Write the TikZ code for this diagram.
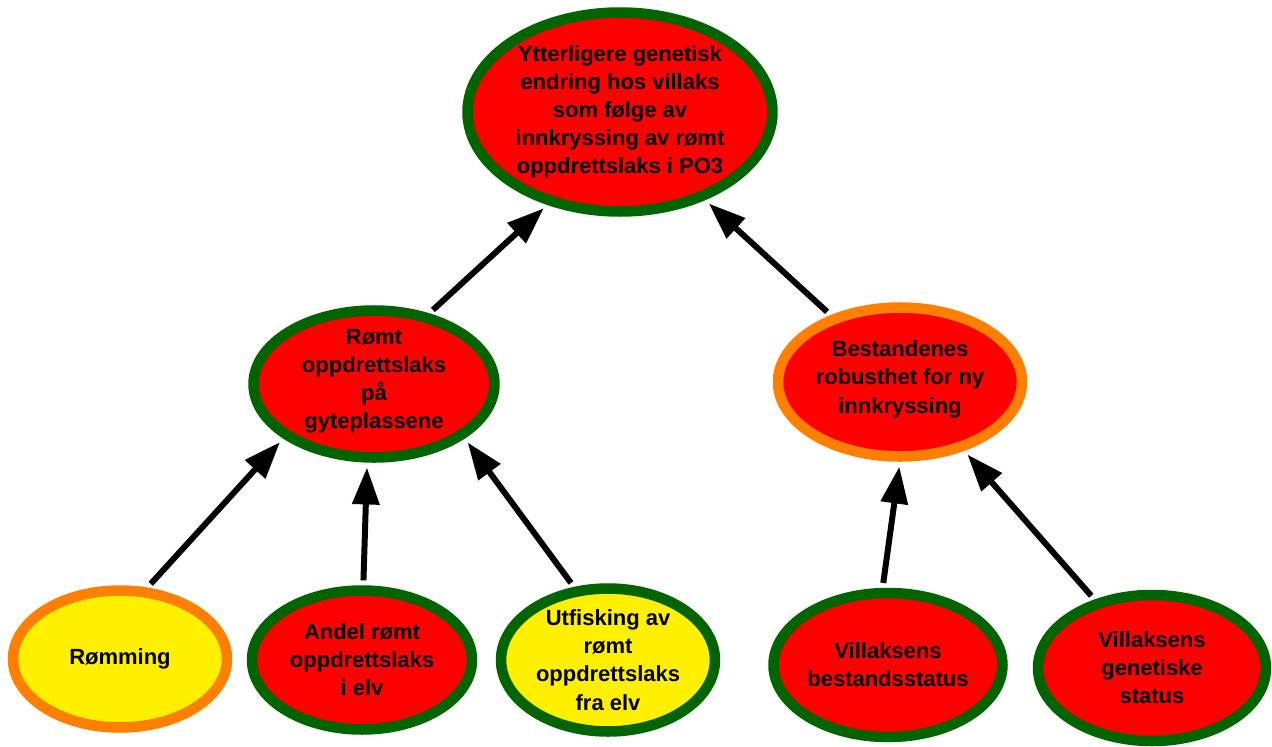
\documentclass[tikz,border=0pt]{standalone}
\usepackage{fontspec}
\setmainfont{Liberation Sans}
\usepackage{tikz}
\usetikzlibrary{shapes.geometric}
\usetikzlibrary{arrows.meta}

\definecolor{fred}{RGB}{255,0,0}
\definecolor{fgreen}{RGB}{0,100,0}
\definecolor{forange}{RGB}{255,128,0}
\definecolor{fyellow}{RGB}{255,240,0}

\begin{document}
\begin{tikzpicture}[x=0.02cm,y=-0.02cm,>={Triangle[length=21pt,width=15pt]},
	factor/.style={ellipse,line width=6pt,inner sep=0pt},
	good/.style={draw=fgreen},
	fair/.style={draw=forange},
	high/.style={fill=fred},
	moderate/.style={fill=fyellow},
	txt/.style={align=center,font=\bfseries\fontsize{12.5}{16}\selectfont}]
	
	\useasboundingbox (0,0) rectangle (1272,747);
	
	\node[factor,good,high,minimum width=6.1cm,minimum height=3.98cm] (goal) at (620,112) {};
	\node[factor,good,high,minimum width=4.82cm,minimum height=2.94cm] (romt) at (374,384) {};
	\node[factor,fair,high,minimum width=4.88cm,minimum height=2.98cm] (robust) at (900,382) {};
	\node[factor,fair,moderate,minimum width=4.28cm,minimum height=2.74cm] (romming) at (120,659) {};
	\node[factor,good,high,minimum width=4.4cm,minimum height=2.78cm] (andel) at (362,660) {};
	\node[factor,good,moderate,minimum width=4.28cm,minimum height=2.86cm] (utfisking) at (608,660) {};
	\node[factor,good,high,minimum width=4.58cm,minimum height=2.88cm] (bestand) at (888,665) {};
	\node[factor,good,high,minimum width=4.56cm,minimum height=2.92cm] (genetisk) at (1152,668) {};
	
	\node[txt] at (goal) {Ytterligere genetisk\\endring hos villaks\\som følge av\\innkryssing av rømt\\oppdrettslaks i PO3};
	\node[txt,yshift=1.5pt] at (romt) {Rømt\\oppdrettslaks\\på\\gyteplassene};
	\node[txt,yshift=1.5pt] at (robust) {Bestandenes\\robusthet for ny\\innkryssing};
	\node[txt] at (romming) {Rømming};
	\node[txt] at (andel) {Andel rømt\\oppdrettslaks\\i elv};
	\node[txt] at (utfisking) {Utfisking av\\rømt\\oppdrettslaks\\fra elv};
	\node[txt] at (bestand) {Villaksens\\bestandsstatus};
	\node[txt] at (genetisk) {Villaksens\\genetiske\\status};
	
	\path[->,line width=3.4pt,shorten >=2.8pt,shorten <=2.8pt]
	(romt.52) edge (goal.-128)
	(robust.136) edge (goal.-46)
	(romming.69) edge (romt.-149)
	(andel.89) edge (romt.-95)
	(utfisking.115) edge (romt.-31)
	(bestand.94) edge (robust.-90)
	(genetisk.130) edge (robust.-47);
\end{tikzpicture}
\end{document}
